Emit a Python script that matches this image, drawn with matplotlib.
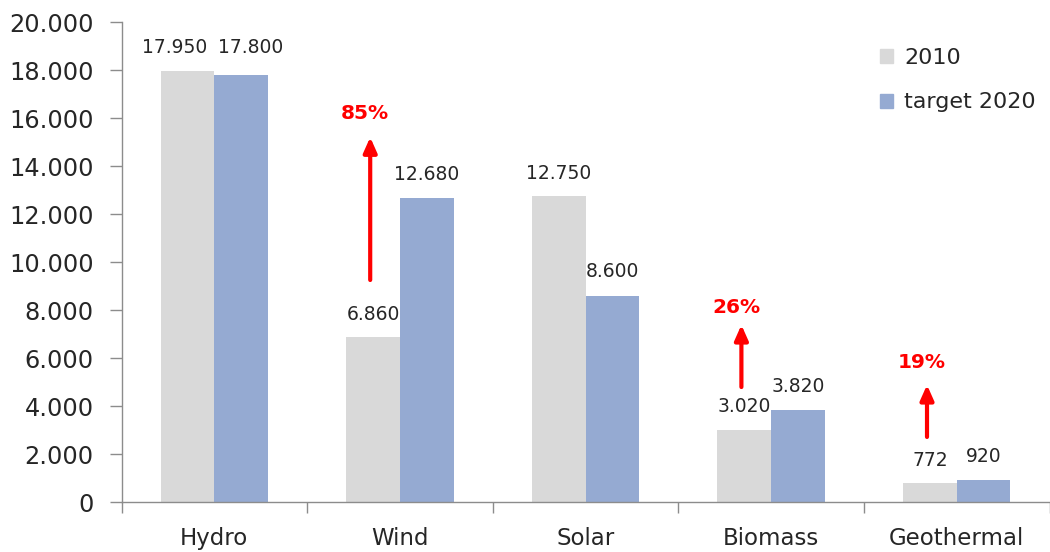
import matplotlib
matplotlib.use("Agg")
import matplotlib.pyplot as plt
import numpy as np
from matplotlib.patches import Patch

categories = ["Hydro", "Wind", "Solar", "Biomass", "Geothermal"]
values_2010 = [17950, 6860, 12750, 3020, 772]
values_2020 = [17800, 12680, 8600, 3820, 920]
labels_2010 = ["17.950", "6.860", "12.750", "3.020", "772"]
labels_2020 = ["17.800", "12.680", "8.600", "3.820", "920"]
growth_cats = [1, 3, 4]
growth_labels = ["85%", "26%", "19%"]
arrow_ranges = [(9250, 15200), (4790, 7380), (2710, 4880)]
growth_label_y = [16170, 8120, 5800]
yticks = [0, 2000, 4000, 6000, 8000, 10000, 12000, 14000, 16000, 18000, 20000]
ytick_labels = ["0", "2.000", "4.000", "6.000", "8.000", "10.000", "12.000",
                "14.000", "16.000", "18.000", "20.000"]

c2010 = "#d9d9d9"
c2020 = "#95aad2"
gray = "#8c8c8c"
txt = "#262626"

fig = plt.figure(figsize=(10.5, 5.52), dpi=100)
ax = fig.add_axes([121.5 / 1050, 50 / 552, 928 / 1050, 480 / 552])

x = np.arange(len(categories))
w = 0.289
ax.bar(x - w / 2, values_2010, w, color=c2010, label="2010")
ax.bar(x + w / 2, values_2020, w, color=c2020, label="target 2020")

lfs = 13.5
for i in range(len(categories)):
    if i == 0:
        top = max(values_2010[i], values_2020[i])
        ax.annotate(labels_2010[i], (x[i] - w / 2, top), xytext=(-9, 17),
                    textcoords="offset points", ha="center", va="center",
                    fontsize=lfs, color=txt)
        ax.annotate(labels_2020[i], (x[i] + w / 2, top), xytext=(7, 17),
                    textcoords="offset points", ha="center", va="center",
                    fontsize=lfs, color=txt)
    else:
        ax.annotate(labels_2010[i], (x[i] - w / 2, values_2010[i]), xytext=(0, 16.5),
                    textcoords="offset points", ha="center", va="center",
                    fontsize=lfs, color=txt)
        ax.annotate(labels_2020[i], (x[i] + w / 2, values_2020[i]), xytext=(0, 17),
                    textcoords="offset points", ha="center", va="center",
                    fontsize=lfs, color=txt)

for c, lab, (y0, y1), ly in zip(growth_cats, growth_labels, arrow_ranges, growth_label_y):
    xa = c - 0.16
    ax.annotate("", xy=(xa, y1), xytext=(xa, y0),
                arrowprops=dict(arrowstyle="-|>,head_width=0.4,head_length=0.9",
                                color="#ff0000", lw=3, shrinkA=0, shrinkB=0))
    ax.text(xa - 0.028, ly, lab, color="#ff0000", fontsize=14.5,
            fontweight="bold", ha="center", va="center")

ax.set_xlim(-0.5, 4.463)
ax.set_ylim(0, 20000)
ax.set_yticks(yticks)
ax.set_yticklabels(ytick_labels, fontsize=17.3, color=txt)
ax.set_xticks(x)
ax.set_xticklabels(categories, fontsize=16.5, color=txt)
ax.set_xticks(np.arange(-0.5, 4.6, 1.0), minor=True)
ax.tick_params(axis="x", which="major", length=0, pad=18)
ax.tick_params(axis="x", which="minor", length=8, color=gray, width=1)
ax.tick_params(axis="y", length=9, color=gray, width=1, pad=11)

for s in ["top", "right"]:
    ax.spines[s].set_visible(False)
for s in ["left", "bottom"]:
    ax.spines[s].set_color(gray)
    ax.spines[s].set_linewidth(1)

handles = [Patch(color=c2010), Patch(color=c2020)]
leg = fig.legend(handles, ["2010", "target 2020"], loc="upper left",
                 bbox_to_anchor=(860 / 1050, 1 - 28 / 552), frameon=False,
                 fontsize=16, handlelength=0.6, handleheight=0.6,
                 handletextpad=0.5, labelspacing=1.1)
for t in leg.get_texts():
    t.set_color(txt)

fig.savefig("out.png", dpi=100)
